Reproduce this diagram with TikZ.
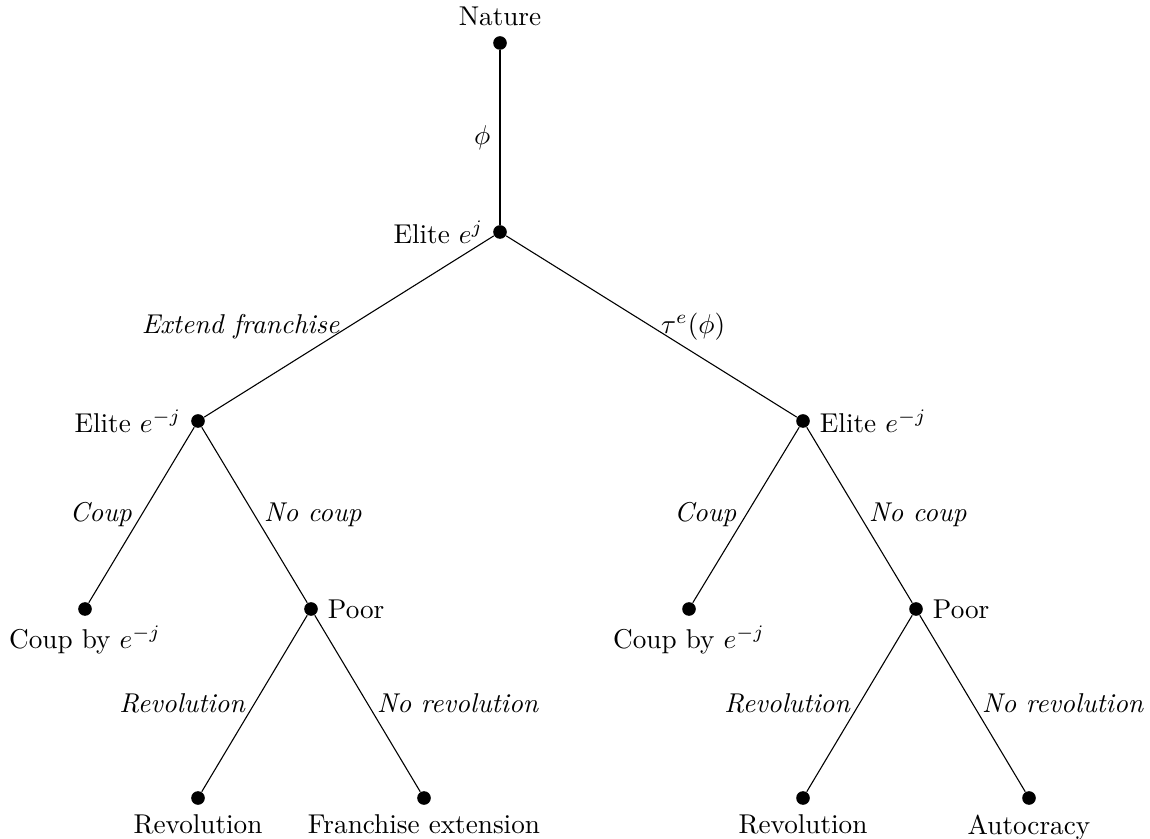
\documentclass[tikz,border=0pt]{standalone}
\usepackage{amsfonts,amsmath}
\usepackage{tikz}

\tikzset{
  dot/.style={circle,fill=black,inner sep=0pt,minimum size=5pt},
  move/.style={font=\itshape}
}

\begin{document}
\begin{tikzpicture}[x=0.735pt,y=0.735pt,yscale=-1,xscale=1]
%set diagram frame
\useasboundingbox (0,0) rectangle (575,419.5);

%Shape: Decision nodes
\node [dot, label=above:Nature] (nature) at (250,21.5) {};
\node [dot, label=left:{Elite $e^{j}$}] (eliteJ) at (250,116) {};
\node [dot, label=left:{Elite $e^{-j}$}] (eliteL) at (99,210.5) {};
\node [dot, label=right:{Elite $e^{-j}$}] (eliteR) at (401.5,210.5) {};
\node [dot, label=right:Poor] (poorL) at (155.5,304.5) {};
\node [dot, label=right:Poor] (poorR) at (458,304.5) {};

%Shape: Terminal nodes
\node [dot, label=below:{Coup by $e^{-j}$}] (coupL) at (42.5,304.5) {};
\node [dot, label=below:{Coup by $e^{-j}$}] (coupR) at (344.5,304.5) {};
\node [dot, label=below:Revolution] (revL) at (99,399) {};
\node [dot, label=below:Franchise extension] (franchise) at (212,399) {};
\node [dot, label=below:Revolution] (revR) at (401.5,399) {};
\node [dot, label=below:Autocracy] (autocracy) at (514.5,399) {};

%Straight Lines
\draw (nature) -- node [left] {$\phi$} (eliteJ);
\draw (eliteJ) -- node [left, move] {Extend franchise} (eliteL);
\draw (eliteJ) -- node [right] {$\tau^{e}(\phi)$} (eliteR);

%Straight Lines
\draw (eliteL) -- node [left, move] {Coup} (coupL);
\draw (eliteL) -- node [right, move] {No coup} (poorL);
\draw (eliteR) -- node [left, move] {Coup} (coupR);
\draw (eliteR) -- node [right, move] {No coup} (poorR);

%Straight Lines
\draw (poorL) -- node [left, move] {Revolution} (revL);
\draw (poorL) -- node [right, move] {No revolution} (franchise);
\draw (poorR) -- node [left, move] {Revolution} (revR);
\draw (poorR) -- node [right, move] {No revolution} (autocracy);

\end{tikzpicture}
\end{document}
